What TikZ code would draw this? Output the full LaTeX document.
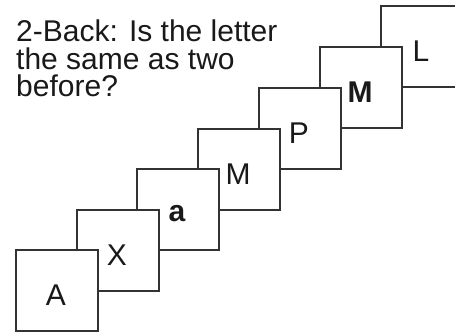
\documentclass[tikz,border=0pt]{standalone}
\usepackage{fontspec}
\setmainfont{Liberation Sans}
\begin{document}
\begin{tikzpicture}[x=1pt,y=1pt,
  card/.style={draw=black!80, line width=1.8pt, fill=white, minimum width=82pt, minimum height=81pt, inner sep=0pt, anchor=south west},
  lett/.style={font=\fontsize{30}{30}\selectfont, text=black!90, inner sep=0pt},
  boldlett/.style={font=\fontsize{30}{30}\selectfont\bfseries, text=black!90, inner sep=0pt}]
\useasboundingbox (0,0) rectangle (455,334);
\clip (0,0) rectangle (455,334);
\node[anchor=base west, align=left, inner sep=0pt, text=black!90,
      font=\fontsize{30}{27.5}\selectfont] (title) at (16,237)
  {2-Back: Is the letter\\the same as two\\before?};
% cards drawn back to front
\node[card] (c6) at (380,246) {};
\node[card] (c5) at (319,205) {};
\node[card] (c4) at (258,164) {};
\node[card] (c3) at (197,123) {};
\node[card] (c2) at (136,83) {};
\node[card] (c1) at (76,42) {};
\node[card] (c0) at (15,2) {};
% letters
\node[lett] (l6) at ([shift={(41,37)}]c6.south west) {L};
\node[boldlett] (l5) at ([shift={(41,37)}]c5.south west) {M};
\node[lett] (l4) at ([shift={(41,37)}]c4.south west) {P};
\node[lett] (l3) at ([shift={(41,37)}]c3.south west) {M};
\node[boldlett] (l2) at ([shift={(41,37)}]c2.south west) {a};
\node[lett] (l1) at ([shift={(41,37)}]c1.south west) {X};
\node[lett] (l0) at ([shift={(41,37)}]c0.south west) {A};
\end{tikzpicture}
\end{document}
